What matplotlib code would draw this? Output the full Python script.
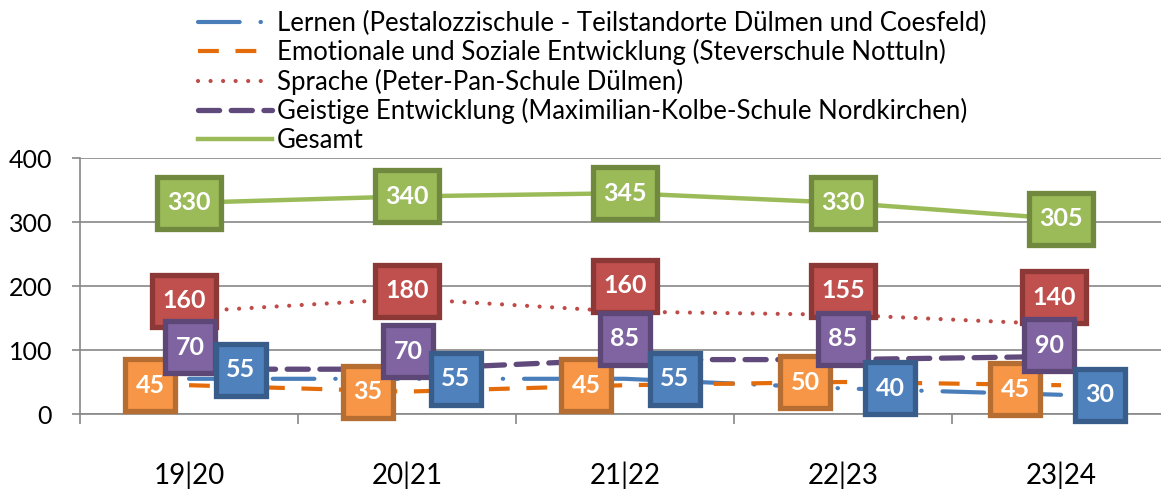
import matplotlib.pyplot as plt
from matplotlib.path import Path
import numpy as np

# data
jahre = ["19|20", "20|21", "21|22", "22|23", "23|24"]
lernen = [55, 55, 55, 40, 30]
emotional = [45, 35, 45, 50, 45]
sprache = [160, 180, 160, 155, 140]
geistig = [70, 70, 85, 85, 90]
gesamt = [330, 340, 345, 330, 305]

namen = ["Lernen (Pestalozzischule - Teilstandorte Dülmen und Coesfeld)",
         "Emotionale und Soziale Entwicklung (Steverschule Nottuln)",
         "Sprache (Peter-Pan-Schule Dülmen)",
         "Geistige Entwicklung (Maximilian-Kolbe-Schule Nordkirchen)",
         "Gesamt"]

# label offsets in pixels (dx, dy nach oben) - wie im Original verschoben
off_lernen = [(52, 9), (49, 0), (50, 0), (47, 0), (39, 0)]
off_emotional = [(-39, 0), (-39, 0), (-39, 0), (-38, 0), (-46, -4)]
off_sprache = [(-5, 11), (0, 8), (0, 26), (0, 24), (-7, 27)]
off_geistig = [(1, 22), (1, 18), (0, 21), (0, 21), (-12, 11)]
off_gesamt = [(0, 0)] * 5

plt.rcParams['font.family'] = ['Lato', 'DejaVu Sans']


def kasten(x0, y0, w, h, mutation_scale):
    # rechteck mit mehr polster oben/unten als links/rechts
    px = 0.42 * mutation_scale
    py = 0.58 * mutation_scale
    return Path([(x0 - px, y0 - py), (x0 + w + px, y0 - py),
                 (x0 + w + px, y0 + h + py), (x0 - px, y0 + h + py),
                 (x0 - px, y0 - py)], closed=True)


fig = plt.figure(figsize=(11.61, 4.91), dpi=100)
ax = fig.add_axes([80/1161, 77/491, 1090/1161, 256/491])
x = np.arange(len(jahre))

# (werte, offsets, linienfarbe, boxfarbe, randfarbe, stil, zorder)
serien = [
    (lernen, off_lernen, '#4A7EBB', '#4F81BD', '#385D8A',
     dict(lw=3, dashes=(10, 5, 0.1, 5), dash_capstyle='round'), 13),
    (emotional, off_emotional, '#E46C0A', '#F79646', '#B66D31',
     dict(lw=3, dashes=(5, 4), dash_capstyle='butt'), 10),
    (sprache, off_sprache, '#BE4B48', '#C0504D', '#8C3836',
     dict(lw=3, dashes=(0.01, 3), dash_capstyle='round'), 11),
    (geistig, off_geistig, '#604A7B', '#8064A2', '#5C4776',
     dict(lw=3.8, dashes=(4, 2.2), dash_capstyle='round'), 12),
    (gesamt, off_gesamt, '#9BBB59', '#9BBB59', '#71893F',
     dict(lw=3.2), 14),
]

handles = []
for (werte, offs, lc, fc, ec, stil, z), name in zip(serien, namen):
    h, = ax.plot(x, werte, color=lc, label=name, zorder=3, **stil)
    handles.append(h)
    for xi, v, (dx, dy) in zip(x, werte, offs):
        ax.annotate(str(v), (xi, v), xytext=(dx * 0.72, dy * 0.72),
                    textcoords='offset points', ha='center', va='center',
                    color='white', fontsize=18, fontweight='bold', zorder=z,
                    bbox=dict(boxstyle=kasten, fc=fc, ec=ec, lw=3.8))

ax.set_xlim(-0.5, len(jahre) - 0.5)
ax.set_ylim(0, 400)
ax.set_yticks([0, 100, 200, 300, 400])
ax.yaxis.grid(True, color='#888888', lw=1.2)
ax.set_axisbelow(True)
for s in ['top', 'right']:
    ax.spines[s].set_visible(False)
for s in ['left', 'bottom']:
    ax.spines[s].set_color('#888888')
    ax.spines[s].set_linewidth(1.2)
ax.tick_params(axis='y', length=6, color='#888888', width=1.2, labelsize=18, pad=14)
ax.set_xticks(x)
ax.set_xticklabels(jahre)
ax.set_xticks(np.arange(-0.5, len(jahre)), minor=True)
ax.tick_params(axis='x', which='major', length=0, labelsize=20, pad=34)
ax.tick_params(axis='x', which='minor', length=7, color='#888888', width=1.2)

fig.legend(handles=handles, loc='upper left', bbox_to_anchor=(185/1161, 1.004),
           frameon=False, fontsize=18.5, handlelength=2.88, handletextpad=0.2,
           labelspacing=0.13, borderaxespad=0.1)

fig.savefig('out.png', dpi=100)
